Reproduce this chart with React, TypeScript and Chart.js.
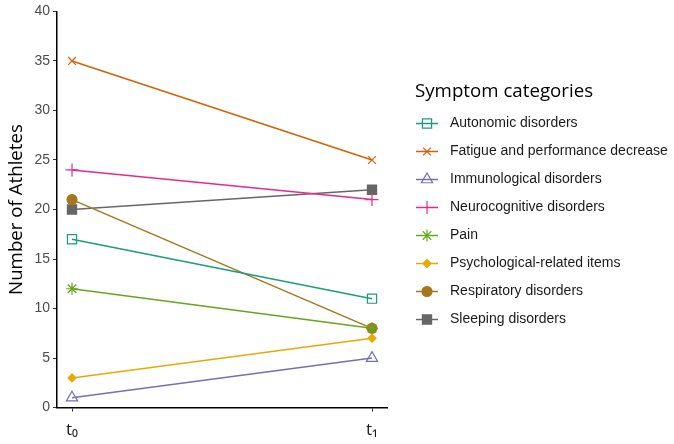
import React, { useEffect, useRef } from "react";
import { Chart, registerables } from "chart.js";
import { drawPoint } from "chart.js/helpers";

Chart.register(...registerables);

const timeLabels = ["t\u2080", "t\u2081"];
const timePositions = [0, 1];
const yTicks = [0, 5, 10, 15, 20, 25, 30, 35, 40];

const seriesNames = [
  "Autonomic disorders",
  "Fatigue and performance decrease",
  "Immunological disorders",
  "Neurocognitive disorders",
  "Pain",
  "Psychological-related items",
  "Respiratory disorders",
  "Sleeping disorders",
];
const autonomic = [17, 11];
const fatigue = [35, 25];
const immunological = [1, 5];
const neurocognitive = [24, 21];
const pain = [12, 8];
const psychological = [3, 7];
const respiratory = [21, 8];
const sleeping = [20, 22];
const seriesValues = [autonomic, fatigue, immunological, neurocognitive, pain, psychological, respiratory, sleeping];

const colors = ["#1B9E77", "#D95F02", "#7570B3", "#E7298A", "#66A61E", "#E6AB02", "#A6761D", "#666666"];
const pointStyles = ["rect", "crossRot", "triangle", "cross", "star", "rectRot", "circle", "rect"];
const pointFilled = [false, false, false, false, false, true, true, true];
const pointRadii = [6.5, 5.5, 6.5, 6.5, 6, 4, 5, 6.5];

const TITLE_FONT = "'Open Sans', sans-serif";
const TEXT_FONT = "'Liberation Sans', Arial, sans-serif";

const legendPlugin = {
  id: "customLegend",
  afterDraw(chart: any) {
    const ctx = chart.ctx;
    ctx.save();
    ctx.fillStyle = "#000";
    ctx.font = `18.7px ${TITLE_FONT}`;
    ctx.textBaseline = "middle";
    ctx.textAlign = "left";
    ctx.fillText("Symptom categories", 415, 92);
    chart.data.datasets.forEach((ds: any, i: number) => {
      const y = 123.5 + i * 28;
      ctx.strokeStyle = ds.borderColor;
      ctx.lineWidth = 1.5;
      ctx.beginPath();
      ctx.moveTo(416, y);
      ctx.lineTo(438, y);
      ctx.stroke();
      ctx.fillStyle = ds.pointBackgroundColor;
      ctx.strokeStyle = ds.borderColor;
      ctx.lineWidth = 1.2;
      drawPoint(ctx, { pointStyle: ds.pointStyle, radius: ds.pointRadius, borderWidth: 1.2, rotation: 0 } as any, 427, y);
      ctx.fillStyle = "#1a1a1a";
      ctx.font = `14px ${TEXT_FONT}`;
      ctx.fillText(ds.label, 450, y);
    });
    ctx.restore();
  },
};

function App() {
  const ref = useRef<HTMLCanvasElement>(null);
  useEffect(() => {
    if (!ref.current) return;
    const datasets = seriesNames.map((name, i) => ({
      label: name,
      data: timePositions.map((t, j) => ({ x: t, y: seriesValues[i][j] })),
      borderColor: colors[i],
      backgroundColor: colors[i],
      pointBackgroundColor: pointFilled[i] ? colors[i] : "rgba(0,0,0,0)",
      pointBorderColor: colors[i],
      pointStyle: pointStyles[i],
      pointRadius: pointRadii[i],
      pointBorderWidth: 1.2,
      borderWidth: 1.5,
      tension: 0,
    }));
    const chart = new Chart(ref.current, {
      type: "line",
      data: { datasets },
      plugins: [legendPlugin],
      options: {
        animation: false,
        responsive: false,
        maintainAspectRatio: false,
        layout: { padding: { left: 5, right: 287, top: 3, bottom: -4 } },
        plugins: { legend: { display: false }, tooltip: { enabled: false } },
        scales: {
          x: {
            type: "linear",
            min: -0.05,
            max: 1.05,
            afterBuildTicks: (s: any) => {
              s.ticks = timePositions.map((v) => ({ value: v }));
            },
            ticks: {
              callback: (v: any) => timeLabels[timePositions.indexOf(v)],
              color: "#1a1a1a",
              font: { family: TITLE_FONT, size: 17 },
              padding: 8,
              maxRotation: 0,
            },
            grid: { drawOnChartArea: false, drawTicks: true, tickLength: 4, color: "#333" },
            border: { display: true, color: "#000", width: 1.5 },
          },
          y: {
            min: 0,
            max: 40,
            afterBuildTicks: (s: any) => {
              s.ticks = yTicks.map((v) => ({ value: v }));
            },
            ticks: {
              color: "#4d4d4d",
              font: { family: TEXT_FONT, size: 14 },
              padding: 3,
            },
            grid: { drawOnChartArea: false, drawTicks: true, tickLength: 4, color: "#333" },
            border: { display: true, color: "#000", width: 1.5 },
            title: {
              display: true,
              text: "Number of Athletes",
              color: "#000",
              font: { family: TITLE_FONT, size: 18.7 },
              padding: { top: 0, bottom: 4 },
            },
          },
        },
      },
    });
    return () => chart.destroy();
  }, []);
  return (
    <div style={{ position: "fixed", left: 0, top: 0, width: 674, height: 444, background: "#fff" }}>
      <canvas ref={ref} width={674} height={444} style={{ width: 674, height: 444 }} />
    </div>
  );
}

export default App;
